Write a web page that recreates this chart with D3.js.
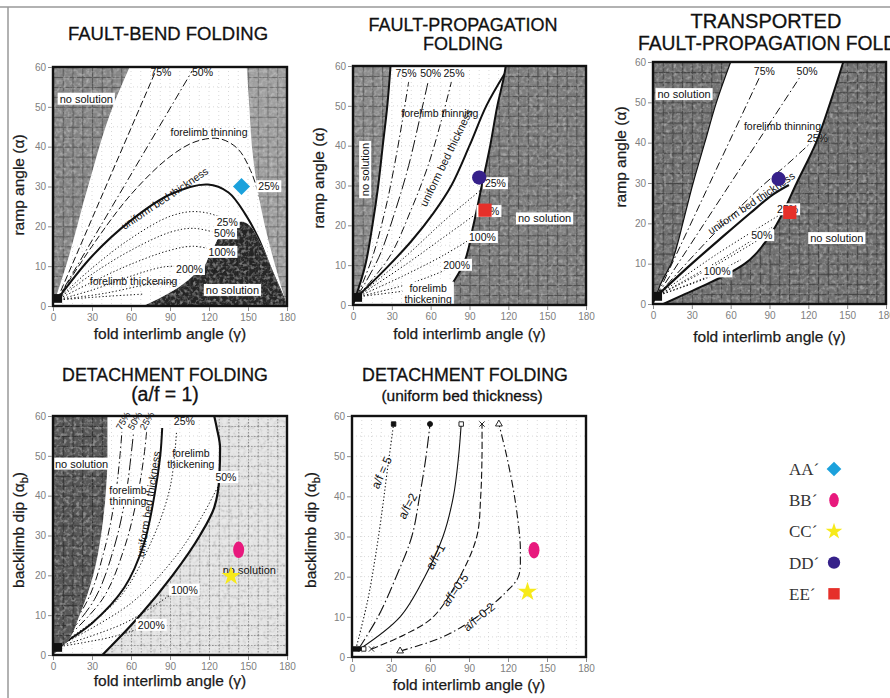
<!DOCTYPE html>
<meta charset="utf-8">
<script src="https://d3js.org/d3.v7.min.js"></script>
<style>
  body { margin: 0; background: #fff; }
  text { font-family: "Liberation Sans", Arial, sans-serif; }
</style>
<div id="fig"></div>
<script>

// ---- shared axis ticks
var xTicks = [0, 30, 60, 90, 120, 150, 180];
var yTicks = [0, 10, 20, 30, 40, 50, 60];

// ---- fault-bend folding  [gamma, alpha]
var fbLeftEdge  = [[0,0],[10,10],[27,30],[46,50],[59,60]];
var fbRightEdge = [[180,0],[171,10],[163,20],[157,30],[153,40],[151,50],[149,60]];
var fbBottom    = [[69,0],[85,2.5],[100,5.5],[112,9],[118,11],[121,13.5],[124,15],[127,17],[131,18.5],[138,20.5],[145,21.2],[152,20],[160,15.5],[170,8],[180,0]];
var fb75        = [[3,1.5],[79,59]];
var fb50        = [[3,1.5],[107,59]];
var fbThin25    = [[3,1.5],[30,15],[60,28],[90,37.5],[110,41.3],[128,42],[142,39.5],[152,34],[160,26],[167,18],[174,9],[180,0]];
var fbUniform   = [[3,1.5],[30,12.5],[60,21.5],[90,28],[119,30.5],[135,28.5],[148,23],[158,17],[168,9],[180,0]];
var fbThick25   = [[3,1.5],[30,9.5],[60,17],[90,22.5],[110,23.7],[130,22],[150,16],[165,9],[180,0]];
var fbThick50   = [[3,1.5],[30,8],[60,14],[90,18.5],[108,19.5],[130,18]];
var fbThick100  = [[3,1.5],[30,6],[60,10.5],[90,14],[108,15],[125,14]];
var fbThick200  = [[3,1.5],[30,4],[60,7.5],[85,9.8],[105,10]];
var fbThickLow1 = [[3,1.5],[40,3.2],[75,5.5],[95,6]];
var fbThickLow2 = [[3,1.5],[40,2.4],[70,3]];

// ---- fault-propagation folding
var fpLeftEdge  = [[0,0],[9.5,10],[15,20],[19.5,30],[23,40],[26.5,50],[29,60]];
var fpRightEdge = [[65,0],[76,5],[85,10],[93,20],[99.5,30],[106,40],[111.5,50],[117,58],[118,60]];
var fpUniform   = [[3,2],[25,9],[45,16],[62,23],[76,30],[90,40],[103,50],[117,58]];
var fp75        = [[3,2],[15,12],[25,24],[32,35],[38,46],[43,56]];
var fp50        = [[3,2],[20,12],[33,24],[43,35],[51,46],[58,56]];
var fp25        = [[3,2],[28,12],[45,24],[58,35],[68,46],[76,56]];
var fpThick25   = [[3,2],[40,12],[70,21],[103,30]];
var fpThick50   = [[3,2],[40,10],[70,17],[100,24]];
var fpThick100  = [[3,2],[40,7.5],[70,12.5],[93,17]];
var fpThick200  = [[3,2],[40,5],[62,7.5],[80,10]];
var fpThickLow  = [[3,2],[40,3.5],[70,4.5]];

// ---- transported fault-propagation folding  [alpha, gamma left, gamma right]
var tfWhite     = [[0,0,8],[2.5,3,25],[5,6,42],[7.5,10,58],[10,14,71],[15,19,86],[20,23,96],[30,31,111],[40,40,126],[50,49,137],[60,60,147]];
var tfUniform   = [[3,2],[30,10],[55,17],[75,22.5],[92,27],[105,29.5]];
var tf75        = [[3,2],[82,56]];
var tf50        = [[3,2],[113,56]];
var tf25        = [[3,2],[40,15],[80,28],[105,35],[122,40]];
var tfThick25   = [[3,2],[50,12.5],[100,22.5]];
var tfThick35   = [[3,2],[50,10.5],[92,19]];
var tfThick50   = [[3,2],[45,9],[82,16]];
var tfThick75   = [[3,2],[40,6.5],[68,11]];
var tfThick100  = [[3,2],[30,5],[50,7.5]];

// ---- detachment folding (a/f = 1)
var dfLeftEdge  = [[0,0],[10,3],[20.5,10],[31,20],[37,30],[40.5,40],[42,50],[42,60]];
var dfRightEdge = [[38,0],[50,4],[67,10],[92,20],[113,30],[124,37],[128,45],[128.5,52],[126,57],[124,60]];
var dfUniform   = [[3,2],[30,8],[55,17],[70,28],[78,40],[82.5,50],[84,57]];
var df25        = [[3,2],[38,14],[55,27],[65,40],[70,50],[72,56]];
var df50        = [[3,2],[32,14],[47,27],[56,40],[60,50],[62,56]];
var df75        = [[3,2],[27,14],[40,27],[48,40],[51.5,50],[53,56]];
var dfThick25   = [[3,2],[50,14],[75,28],[90,42],[95,56]];
var dfThick50   = [[3,2],[60,13],[95,25],[115,35],[128,43]];
var dfThick100  = [[3,2],[55,8],[92,15.5]];
var dfThick200  = [[3,2],[45,4.5],[70,7]];

// ---- detachment folding (uniform bed thickness)
var af5   = [[3,2],[12,14],[18,25],[23,36],[27,46],[32,58]];
var af2   = [[5,2],[20,10],[34,20],[46,30],[52,40],[57,50],[60,58]];
var af1   = [[6,2],[37,10],[56,20],[70,30],[78,40],[82,50],[84,58]];
var af05  = [[15,2],[40,5.5],[62.5,10],[83,20],[96,30],[99,40],[100,50],[100,58]];
var af02  = [[37,1.5],[70,5],[96,10],[118,16],[128,20],[129.5,26],[129,30],[125,40],[119,50],[113,58]];
var afEnds = [
  {g:32, a:58, s:"square", fill:"#111"}, {g:60, a:58, s:"circle", fill:"#111"},
  {g:84, a:58, s:"square", fill:"#fff"}, {g:100, a:58, s:"cross", fill:"#111"},
  {g:113, a:58, s:"triangle", fill:"#fff"},
  {g:2, a:2, s:"square", fill:"#111"}, {g:5, a:2, s:"circle", fill:"#111"},
  {g:9, a:2, s:"square", fill:"#fff"}, {g:15, a:2, s:"cross", fill:"#111"},
  {g:37, a:1.5, s:"triangle", fill:"#fff"}
];

// ---- section markers
var markerKeys   = ["AA\u00b4", "BB\u00b4", "CC\u00b4", "DD\u00b4", "EE\u00b4"];
var markerColors = ["#1ba1dc", "#e8197d", "#f7ea1a", "#36218a", "#e6302a"];
var markerShapes = ["diamond", "ellipse", "star", "circle", "square"];
var fbMarks = [{k:0, g:145, a:30}];
var fpMarks = [{k:3, g:97.5, a:32}, {k:4, g:102, a:23.8}];
var tfMarks = [{k:3, g:97, a:31}, {k:4, g:105.7, a:22.7}];
var dfMarks = [{k:1, g:142.8, a:26.4}, {k:2, g:137, a:19.8}];
var duMarks = [{k:1, g:140, a:26.6}, {k:2, g:135, a:16.2}];

var W = 890, H = 698;
var svg = d3.select("#fig").append("svg").attr("width", W).attr("height", H);
var defs = svg.append("defs");

// mild scanned-paper grain for the shaded areas
var grain = defs.append("filter").attr("id", "grain");
grain.append("feTurbulence").attr("type", "fractalNoise").attr("baseFrequency", 0.3).attr("numOctaves", 2).attr("seed", 7).attr("result", "noise");
grain.append("feColorMatrix").attr("in", "noise").attr("type", "matrix")
  .attr("values", "0.17 0.17 0.17 0 0.25  0.17 0.17 0.17 0 0.25  0.17 0.17 0.17 0 0.25  0 0 0 0 1").attr("result", "gray");
grain.append("feBlend").attr("in", "SourceGraphic").attr("in2", "gray").attr("mode", "overlay").attr("result", "mix");
grain.append("feComposite").attr("in", "mix").attr("in2", "SourceGraphic").attr("operator", "in");

// figure frame
svg.append("line").attr("x1", 0).attr("x2", W).attr("y1", 7).attr("y2", 7).attr("stroke", "#999").attr("stroke-width", 1.5);
svg.append("line").attr("x1", 8).attr("x2", 8).attr("y1", 7).attr("y2", H).attr("stroke", "#999").attr("stroke-width", 1.5);

var curve = d3.curveCatmullRom.alpha(0.5);
var dashes = { solid: null, dash: "7,3", dashdot: "8,3,1.5,3", longdot: "12,3,1.5,3", dot: "1.3,2.2" };

function makePanel(id, b) {
  var p = {id: id, b: b};
  p.x = d3.scaleLinear().domain([0, 180]).range([b.l, b.r]);
  p.y = d3.scaleLinear().domain([0, 60]).range([b.b, b.t]);
  defs.append("clipPath").attr("id", "clip-" + id)
    .append("rect").attr("x", b.l).attr("y", b.t).attr("width", b.r - b.l).attr("height", b.b - b.t);
  p.g = svg.append("g");
  p.plot = p.g.append("g").attr("clip-path", "url(#clip-" + id + ")");
  p.plot.append("rect").attr("x", b.l).attr("y", b.t).attr("width", b.r - b.l).attr("height", b.b - b.t).attr("fill", "#fff");
  // faint dotted grid of the scanned paper
  var grid = p.plot.append("g").attr("stroke", "#cfcfcf").attr("stroke-dasharray", "1,3").attr("stroke-width", 0.8);
  d3.range(7.5, 180, 7.5).forEach(function(v) {
    grid.append("line").attr("x1", p.x(v)).attr("x2", p.x(v)).attr("y1", b.t).attr("y2", b.b);
  });
  d3.range(5, 60, 5).forEach(function(v) {
    grid.append("line").attr("y1", p.y(v)).attr("y2", p.y(v)).attr("x1", b.l).attr("x2", b.r);
  });
  return p;
}

function texture(p, name, base, line, lw, dash) {
  var id = "tex-" + p.id + "-" + name;
  var w = p.x(7.5) - p.x(0), h = p.y(57.5) - p.y(60);
  var pat = defs.append("pattern").attr("id", id).attr("patternUnits", "userSpaceOnUse")
    .attr("x", p.x(0)).attr("y", p.y(60)).attr("width", w).attr("height", h);
  pat.append("rect").attr("width", w).attr("height", h).attr("fill", base);
  pat.append("path").attr("d", "M0.5,0V" + h + "M0,0.5H" + w).attr("stroke", line)
    .attr("stroke-width", lw || 1.2).attr("stroke-dasharray", dash || null);
  return "url(#" + id + ")";
}

function shade(p, d, fill) {
  p.plot.append("path").attr("d", d).attr("fill", fill).attr("filter", "url(#grain)");
}

function areaLeft(p, pts) {
  return d3.area().curve(d3.curveMonotoneY).y(function(d) { return p.y(d[1]); })
    .x0(p.x(0)).x1(function(d) { return p.x(d[0]); })(pts);
}
function areaRight(p, pts) {
  var s = pts.slice().sort(function(a, b) { return a[1] - b[1]; });
  return d3.area().curve(d3.curveMonotoneY).y(function(d) { return p.y(d[1]); })
    .x0(function(d) { return p.x(d[0]); }).x1(p.x(180))(s);
}
function areaBelow(p, pts) {
  return d3.area().curve(d3.curveMonotoneX).x(function(d) { return p.x(d[0]); })
    .y0(p.y(0)).y1(function(d) { return p.y(d[1]); })(pts);
}
function edge(p, pts, w) {
  var s = pts.slice().sort(function(a, b) { return a[1] - b[1]; });
  p.plot.append("path").attr("fill", "none").attr("stroke", "#111").attr("stroke-width", w)
    .attr("d", d3.line().curve(d3.curveMonotoneY).x(function(d) { return p.x(d[0]); }).y(function(d) { return p.y(d[1]); })(s));
}

function line(p, pts, style, w) {
  p.plot.append("path").attr("fill", "none").attr("stroke", "#111")
    .attr("stroke-width", w || 1)
    .attr("stroke-dasharray", dashes[style])
    .attr("d", d3.line().curve(curve).x(function(d) { return p.x(d[0]); }).y(function(d) { return p.y(d[1]); })(pts));
}

function label(p, g, a, txt, o) {
  o = o || {};
  var gg = p.g.append("g").attr("transform", "translate(" + p.x(g) + "," + p.y(a) + ") rotate(" + (o.rot || 0) + ")");
  var lines = txt.split("\n");
  var fs = o.size || 10.5;
  var t = gg.append("text").attr("text-anchor", "middle").attr("fill", "#111")
    .style("font-size", fs + "px");
  lines.forEach(function(s, i) {
    t.append("tspan").attr("x", 0).attr("y", (i - (lines.length - 1) / 2) * fs * 1.05 + fs * 0.35).text(s);
  });
  if (o.box) {
    var bb = t.node().getBBox();
    gg.insert("rect", "text").attr("x", bb.x - 2).attr("y", bb.y).attr("width", bb.width + 4).attr("height", bb.height)
      .attr("fill", "#fff");
  }
}

function originBlob(p) {
  p.plot.append("rect").attr("x", p.x(0.5)).attr("y", p.y(3)).attr("width", p.x(7) - p.x(0.5)).attr("height", p.y(0.8) - p.y(3)).attr("fill", "#111");
}

function marks(p, list) {
  list.forEach(function(m) { drawMarker(p.g, p.x(m.g), p.y(m.a), m.k, 1.1); });
}

function drawMarker(g, cx, cy, k, sc) {
  var shape = markerShapes[k], col = markerColors[k];
  if (shape === "ellipse") {
    g.append("ellipse").attr("cx", cx).attr("cy", cy).attr("rx", 5 * sc).attr("ry", 7.5 * sc).attr("fill", col);
  } else if (shape === "diamond") {
    g.append("path").attr("d", d3.symbol().type(d3.symbolSquare).size(120 * sc * sc)())
      .attr("transform", "translate(" + cx + "," + cy + ") rotate(45)").attr("fill", col);
  } else if (shape === "star") {
    g.append("path").attr("d", d3.symbol().type(d3.symbolStar).size(95 * sc * sc)())
      .attr("transform", "translate(" + cx + "," + cy + ")").attr("fill", col);
  } else if (shape === "circle") {
    g.append("circle").attr("cx", cx).attr("cy", cy).attr("r", 6.5 * sc).attr("fill", col);
  } else {
    g.append("rect").attr("x", cx - 6 * sc).attr("y", cy - 6 * sc).attr("width", 12 * sc).attr("height", 12 * sc).attr("fill", col);
  }
}

function finishPanel(p, yLabel, yLabelPos, xLabelY) {
  var b = p.b;
  p.g.append("rect").attr("x", b.l).attr("y", b.t).attr("width", b.r - b.l).attr("height", b.b - b.t)
    .attr("fill", "none").attr("stroke", "#111").attr("stroke-width", 2.4);
  var ax = p.g.append("g").attr("transform", "translate(0," + (b.b + 1) + ")")
    .call(d3.axisBottom(p.x).tickValues(xTicks).tickSize(4).tickPadding(3));
  var ay = p.g.append("g").attr("transform", "translate(" + (b.l - 1) + ",0)")
    .call(d3.axisLeft(p.y).tickValues(yTicks).tickSize(4).tickPadding(2));
  [ax, ay].forEach(function(a) {
    a.select(".domain").remove();
    a.selectAll("line").attr("stroke", "#8a8a8a");
    a.selectAll("text").attr("fill", "#808080").style("font-size", "10px").style("font-family", "'Liberation Sans', Arial, sans-serif");
  });
  p.g.append("text").attr("x", (b.l + b.r) / 2).attr("y", xLabelY).attr("text-anchor", "middle")
    .attr("fill", "#1a1a1a").attr("stroke", "#1a1a1a").attr("stroke-width", 0.25)
    .style("font-size", "15.5px").text("fold interlimb angle (\u03b3)");
  var yt = p.g.append("text").attr("transform", "translate(" + yLabelPos[0] + "," + yLabelPos[1] + ") rotate(-90)")
    .attr("text-anchor", "middle").attr("fill", "#1a1a1a").attr("stroke", "#1a1a1a").attr("stroke-width", 0.25)
    .style("font-size", "15.5px");
  if (yLabel === "backlimb") {
    yt.append("tspan").text("backlimb dip (\u03b1");
    yt.append("tspan").attr("dy", 4).style("font-size", "11px").text("b");
    yt.append("tspan").attr("dy", -4).text(")");
  } else {
    yt.text(yLabel);
  }
}

// ================= panel 1 : fault-bend folding
var p1 = makePanel("fb", {l: 53, r: 287, t: 67, b: 306});
[fbThickLow2, fbThickLow1, fbThick200, fbThick100, fbThick50, fbThick25].forEach(function(d) { line(p1, d, "dot", 1); });
line(p1, fb75, "dash", 1);
line(p1, fb50, "dashdot", 1);
line(p1, fbThin25, "dash", 1);
line(p1, fbUniform, "solid", 2);
shade(p1, areaLeft(p1, fbLeftEdge), texture(p1, "l", "#8a8a8a", "#5a5a5a"));
shade(p1, areaRight(p1, fbRightEdge), texture(p1, "r", "#a2a2a2", "#727272"));
shade(p1, areaBelow(p1, fbBottom), texture(p1, "b", "#262626", "#3a3a3a"));
originBlob(p1);
label(p1, 25.6, 52, "no solution", {box: true, size: 11});
label(p1, 138, 4, "no solution", {box: true, size: 11});
label(p1, 120, 43.5, "forelimb thinning", {size: 10.5});
label(p1, 83, 58.6, "75%", {size: 10.5});
label(p1, 115, 58.6, "50%", {size: 10.5});
label(p1, 166, 30, "25%", {box: true, size: 10.5});
label(p1, 86, 27, "uniform bed thickness", {size: 10.5, rot: -34});
label(p1, 134, 21, "25%", {box: true, size: 10.5});
label(p1, 132, 18.2, "50%", {box: true, size: 10.5});
label(p1, 130, 13.5, "100%", {box: true, size: 10.5});
label(p1, 105, 9.2, "200%", {box: true, size: 10.5});
label(p1, 62, 6.2, "forelimb thickening", {size: 10.5});
marks(p1, fbMarks);
finishPanel(p1, "ramp angle (\u03b1)", [24, 185], 339);

// ================= panel 2 : fault-propagation folding
var p2 = makePanel("fp", {l: 353, r: 586, t: 66, b: 305});
[fpThickLow, fpThick200, fpThick100, fpThick50, fpThick25].forEach(function(d) { line(p2, d, "dot", 1); });
line(p2, fp75, "dashdot", 1);
line(p2, fp50, "longdot", 1);
line(p2, fp25, "dashdot", 1);
line(p2, fpUniform, "solid", 2);
shade(p2, areaLeft(p2, fpLeftEdge), texture(p2, "l", "#8e8e8e", "#5c5c5c"));
shade(p2, areaRight(p2, fpRightEdge), texture(p2, "r", "#808080", "#505050"));
edge(p2, fpLeftEdge, 2);
edge(p2, fpRightEdge, 2);
originBlob(p2);
label(p2, 9.5, 34, "no solution", {box: true, size: 11, rot: -90});
label(p2, 148, 21.7, "no solution", {box: true, size: 11});
label(p2, 41, 58.2, "75%", {size: 10.5});
label(p2, 60, 58.2, "50%", {size: 10.5});
label(p2, 78, 58.2, "25%", {size: 10.5});
label(p2, 67, 48, "forelimb thinning", {size: 10.5});
label(p2, 72, 37, "uniform bed thickness", {size: 11, rot: -64});
label(p2, 110, 30.5, "25%", {box: true, size: 10.5});
label(p2, 105, 23.5, "50%", {box: true, size: 10.5});
label(p2, 100, 17, "100%", {box: true, size: 10.5});
label(p2, 80, 10, "200%", {box: true, size: 10.5});
label(p2, 58, 2.9, "forelimb\nthickening", {box: true, size: 10.5});
marks(p2, fpMarks);
finishPanel(p2, "ramp angle (\u03b1)", [324, 178], 339);

// ================= panel 3 : transported fault-propagation folding
var p3 = makePanel("tf", {l: 653, r: 886, t: 62, b: 304});
shade(p3, "M" + p3.x(0) + "," + p3.y(60) + "H" + p3.x(180) + "V" + p3.y(0) + "H" + p3.x(0) + "Z", texture(p3, "bg", "#747474", "#464646"));
var tfArea = d3.area().curve(d3.curveMonotoneY).y(function(d) { return p3.y(d[0]); })
  .x0(function(d) { return p3.x(d[1]); }).x1(function(d) { return p3.x(d[2]); });
p3.plot.append("path").attr("d", tfArea(tfWhite)).attr("fill", "#fff");
p3.plot.append("path").attr("d", tfArea.lineX0()(tfWhite)).attr("fill", "none").attr("stroke", "#111").attr("stroke-width", 1.2);
p3.plot.append("path").attr("d", tfArea.lineX1()(tfWhite)).attr("fill", "none").attr("stroke", "#111").attr("stroke-width", 2);
[tfThick100, tfThick75, tfThick50, tfThick35, tfThick25].forEach(function(d) { line(p3, d, "dot", 1); });
line(p3, tf75, "dashdot", 1);
line(p3, tf50, "dashdot", 1);
line(p3, tf25, "dashdot", 1);
line(p3, tfUniform, "solid", 2.2);
originBlob(p3);
label(p3, 24, 52, "no solution", {box: true, size: 11});
label(p3, 142, 16.3, "no solution", {box: true, size: 11});
label(p3, 86, 57.7, "75%", {size: 10.5});
label(p3, 119, 57.7, "50%", {size: 10.5});
label(p3, 100, 44, "forelimb thinning", {size: 10.5});
label(p3, 127, 41, "25%", {size: 10.5});
label(p3, 76, 25, "uniform bed thickness", {size: 10.5, rot: -34});
label(p3, 104, 23.4, "25%", {box: true, size: 10.5});
label(p3, 84, 17, "50%", {box: true, size: 10.5});
label(p3, 49.5, 8, "100%", {box: true, size: 10.5});
marks(p3, tfMarks);
finishPanel(p3, "ramp angle (\u03b1)", [626, 157], 342);

// ================= panel 4 : detachment folding (a/f = 1)
var p4 = makePanel("df", {l: 53, r: 287, t: 416, b: 655});
shade(p4, areaRight(p4, dfRightEdge), texture(p4, "r", "#e4e4e4", "#8a8a8a", 1, "1.5,1.5"));
[dfThick200, dfThick100, dfThick50, dfThick25].forEach(function(d) { line(p4, d, "dot", 1); });
line(p4, df75, "dashdot", 1);
line(p4, df50, "longdot", 1);
line(p4, df25, "dashdot", 1);
line(p4, dfUniform, "solid", 2);
edge(p4, dfRightEdge, 2.2);
shade(p4, areaLeft(p4, dfLeftEdge), texture(p4, "l", "#5a5a5a", "#333"));
originBlob(p4);
label(p4, 22, 48, "no solution", {box: true, size: 11});
label(p4, 151, 21.3, "no solution", {size: 11});
label(p4, 54, 58.8, "75%", {size: 9.5, rot: -60});
label(p4, 63, 58.8, "50%", {size: 9.5, rot: -60});
label(p4, 72.3, 58.8, "25%", {size: 9.5, rot: -60});
label(p4, 101, 58.6, "25%", {size: 10.5});
label(p4, 106, 49.2, "forelimb\nthickening", {size: 10.5});
label(p4, 57.7, 40, "forelimb\nthinning", {box: true, size: 10.5});
label(p4, 73.5, 37.9, "uniform bed thickness", {size: 11, rot: -81});
label(p4, 133, 44.6, "50%", {box: true, size: 10.5});
label(p4, 101, 16.3, "100%", {box: true, size: 10.5});
label(p4, 75.6, 7.5, "200%", {box: true, size: 10.5});
marks(p4, dfMarks);
finishPanel(p4, "backlimb", [24, 530], 686);

// ================= panel 5 : detachment folding (uniform bed thickness)
var p5 = makePanel("du", {l: 352, r: 586, t: 416, b: 657});
line(p5, af5, "dot", 1.1);
line(p5, af2, "longdot", 1.1);
line(p5, af1, "solid", 1.1);
line(p5, af05, "dash", 1.1);
line(p5, af02, "dashdot", 1.1);
afEnds.forEach(function(e) {
  var types = {square: d3.symbolSquare, circle: d3.symbolCircle, cross: d3.symbolX, triangle: d3.symbolTriangle};
  p5.plot.append("path").attr("d", d3.symbol().type(types[e.s]).size(20)())
    .attr("transform", "translate(" + p5.x(e.g) + "," + p5.y(e.a) + ")")
    .attr("fill", e.fill).attr("stroke", "#111").attr("stroke-width", 0.9);
});
label(p5, 22.7, 45.9, "a/f = 5", {size: 12, rot: -66});
label(p5, 42.7, 37.6, "a/f=2", {size: 12, rot: -62});
label(p5, 64.2, 25, "a/f=1", {size: 12, rot: -61});
label(p5, 79.2, 16.7, "a/f=0.5", {size: 12, rot: -55});
label(p5, 97.7, 10, "a/f=0.2", {size: 12, rot: -40});
marks(p5, duMarks);
finishPanel(p5, "backlimb", [316, 530], 690);

// ================= titles (one text per title, lines as tspans)
var titleText = [["FAULT-BEND FOLDING"], ["FAULT-PROPAGATION", "FOLDING"], ["TRANSPORTED"], ["FAULT-PROPAGATION FOLDING"],
                 ["DETACHMENT  FOLDING", "(a/f  =  1)"], ["DETACHMENT  FOLDING"], ["(uniform bed thickness)"]];
var titlePos = [[168, 40, "middle", 18.5, 0], [463, 31, "middle", 18, 18.5], [766, 28, "middle", 20, 0],
                [638, 50, "start", 19.3, 0], [165, 381, "middle", 17.8, 20], [465, 381, "middle", 17.8, 0],
                [462, 401, "middle", 15.5, 0]];
titleText.forEach(function(lines, i) {
  var tp = titlePos[i];
  var t = svg.append("text").attr("text-anchor", tp[2]).attr("fill", "#111").attr("stroke", "#111").attr("stroke-width", 0.3)
    .style("font-size", tp[3] + "px");
  lines.forEach(function(s, j) {
    var ts = t.append("tspan").attr("x", tp[0]).attr("y", tp[1] + j * tp[4]).text(s);
    if (i === 4 && j === 1) ts.style("font-size", "19.5px");
  });
});

// ================= legend
var legend = svg.append("g");
markerKeys.forEach(function(k, i) {
  var cy = 469 + i * 31.2;
  legend.append("text").attr("x", 789).attr("y", cy + 6).attr("fill", "#333")
    .style("font-family", "'Liberation Serif', 'Times New Roman', serif").style("font-size", "17px").text(k);
  drawMarker(legend, 834, cy, i, 0.95);
});

</script>
